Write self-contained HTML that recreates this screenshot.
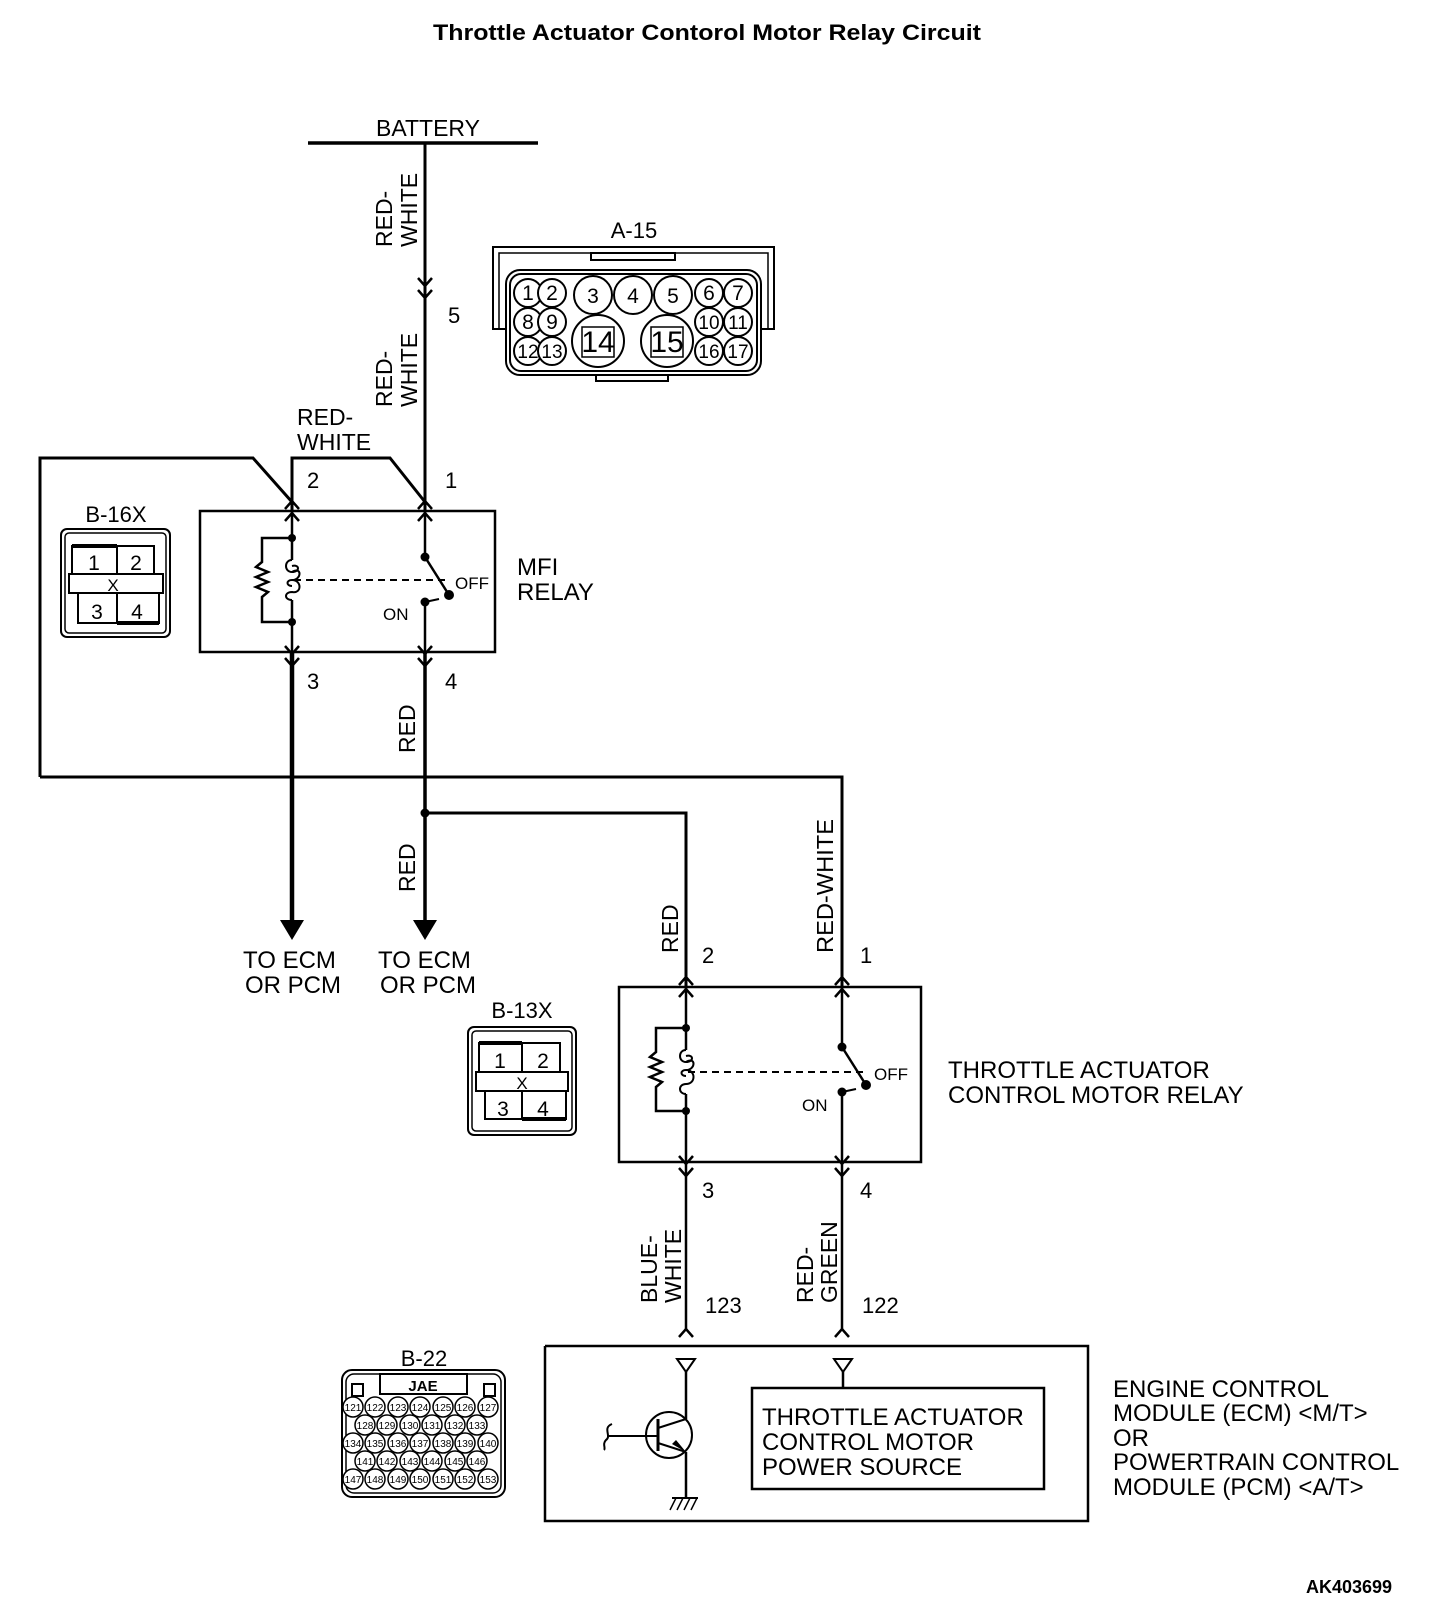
<!DOCTYPE html>
<html><head><meta charset="utf-8"><style>
html,body{margin:0;padding:0;background:#fff}
svg{display:block}
text{font-family:"Liberation Sans",Arial,sans-serif;fill:#000}
</style></head><body>
<svg width="1456" height="1612" viewBox="0 0 1456 1612" xmlns="http://www.w3.org/2000/svg">
<text x="707" y="40" font-size="22" font-weight="bold" text-anchor="middle" textLength="548" lengthAdjust="spacingAndGlyphs">Throttle Actuator Contorol Motor Relay Circuit</text>

<!-- battery -->
<line x1="308" y1="143" x2="538" y2="143" stroke="#000" stroke-width="3.5"/>
<text x="428" y="136" font-size="23" text-anchor="middle">BATTERY</text>
<line x1="425" y1="143" x2="425" y2="511" stroke="#000" stroke-width="3"/>
<g stroke="#000" stroke-width="2.5" fill="none">
<polyline points="418,278 425,286 432,278"/>
<polyline points="418,290 425,298 432,290"/>
</g>
<text x="448" y="323" font-size="22">5</text>
<text transform="translate(392,247) rotate(-90)" font-size="23">RED-</text>
<text transform="translate(417,247) rotate(-90)" font-size="23">WHITE</text>
<text transform="translate(392,407) rotate(-90)" font-size="23">RED-</text>
<text transform="translate(417,407) rotate(-90)" font-size="23">WHITE</text>
<text x="297" y="425" font-size="23">RED-</text>
<text x="297" y="450" font-size="23">WHITE</text>

<!-- A-15 -->
<g stroke="#000" fill="none" stroke-width="2">
<rect x="493" y="247" width="281" height="82"/>
<rect x="499" y="253" width="269" height="76" stroke-width="1.5"/>
<rect x="591" y="253" width="84" height="7"/>
<rect x="506" y="270" width="255" height="105" rx="14" fill="#fff"/>
<rect x="510" y="274" width="247" height="97" rx="11"/>
<rect x="596" y="375" width="72" height="6"/>
</g>
<text x="634" y="238" font-size="22" text-anchor="middle">A-15</text>
<g stroke="#000" stroke-width="2" fill="#fff">
<circle cx="528" cy="293" r="14"/><circle cx="552" cy="293" r="14"/>
<circle cx="593" cy="295" r="19"/><circle cx="633" cy="295" r="19"/><circle cx="673" cy="295" r="19"/>
<circle cx="709" cy="293" r="14"/><circle cx="738" cy="293" r="14"/>
<circle cx="528" cy="322" r="14"/><circle cx="552" cy="322" r="14"/>
<circle cx="709" cy="322" r="14"/><circle cx="738" cy="322" r="14"/>
<circle cx="528" cy="351" r="14"/><circle cx="552" cy="351" r="14"/>
<circle cx="709" cy="351" r="14"/><circle cx="738" cy="351" r="14"/>
<circle cx="598" cy="341" r="26"/><circle cx="667" cy="341" r="26"/>
<rect x="582" y="327" width="32" height="30" stroke-width="1.5"/>
<rect x="651" y="327" width="32" height="30" stroke-width="1.5"/>
</g>
<g font-size="21" text-anchor="middle">
<text x="528" y="300">1</text><text x="552" y="300">2</text>
<text x="593" y="303">3</text><text x="633" y="303">4</text><text x="673" y="303">5</text>
<text x="709" y="300">6</text><text x="738" y="300">7</text>
<text x="528" y="329">8</text><text x="552" y="329">9</text>
<text x="709" y="329" font-size="19">10</text><text x="738" y="329" font-size="19">11</text>
<text x="528" y="358" font-size="19">12</text><text x="552" y="358" font-size="19">13</text>
<text x="709" y="358" font-size="19">16</text><text x="738" y="358" font-size="19">17</text>
<text x="598" y="352" font-size="30">14</text><text x="667" y="352" font-size="30">15</text>
</g>

<!-- wiring top of relay1 -->
<g stroke="#000" stroke-width="3" fill="none">
<polyline points="40,777 40,458 253,458 292,502"/>
<polyline points="292,511 292,458 390,458 425,502"/>
<polyline points="40,777 842,777 842,987"/>
<polyline points="425,813 686,813 686,987"/>
</g>
<text x="307" y="488" font-size="22">2</text>
<text x="445" y="488" font-size="22">1</text>

<!-- B-16X -->
<g stroke="#000" fill="none" stroke-width="2">
<rect x="61" y="529" width="109" height="108" rx="6"/>
<rect x="65" y="533" width="101" height="100" rx="4" stroke-width="1.5"/>
<rect x="72" y="546" width="82" height="28"/>
<line x1="117" y1="546" x2="117" y2="574"/>
<rect x="69" y="574" width="94" height="19"/>
<rect x="78" y="593" width="81" height="30"/>
<line x1="117" y1="593" x2="117" y2="623"/>
<line x1="72" y1="546" x2="117" y2="546" stroke-width="4"/>
<line x1="117" y1="623" x2="159" y2="623" stroke-width="4"/>
</g>
<text x="116" y="522" font-size="22" text-anchor="middle">B-16X</text>
<g font-size="21" text-anchor="middle">
<text x="94" y="570">1</text><text x="136" y="570">2</text>
<text x="113" y="591" font-size="17">X</text>
<text x="97" y="619">3</text><text x="137" y="619">4</text>
</g>

<!-- relay1 -->
<g stroke="#000" fill="none" stroke-width="2.5">
<rect x="200" y="511" width="295" height="141"/>
<polyline points="285,509 292,501 299,509"/><polyline points="285,521 292,513 299,521"/>
<polyline points="418,509 425,501 432,509"/><polyline points="418,521 425,513 432,521"/>
<polyline points="285,646 292,654 299,646"/><polyline points="285,658 292,666 299,658"/>
<polyline points="418,646 425,654 432,646"/><polyline points="418,658 425,666 432,658"/>
<line x1="292" y1="511" x2="292" y2="560"/>
<line x1="292" y1="600" x2="292" y2="652"/>
<polyline points="292,538 262,538 262,562 256,567 268,572 256,577 268,582 256,587 268,592 262,597 262,622 292,622"/>
<path d="M292,560 C284,560 284,572 292,572 C302,566 302,580 292,580 C302,580 302,594 292,592 C284,592 284,600 292,600 M292,566 C300,564 300,572 292,572 M292,580 C286,580 286,586 292,586" stroke-width="2"/>
<line x1="294" y1="580" x2="449" y2="580" stroke-dasharray="7,5" stroke-width="2"/>
<line x1="425" y1="511" x2="425" y2="557"/>
<line x1="425" y1="557" x2="449" y2="595"/>
<line x1="425" y1="602" x2="425" y2="652"/>
<line x1="425" y1="602" x2="439" y2="599" stroke-width="2"/>
</g>
<g fill="#000">
<circle cx="292" cy="538" r="4"/><circle cx="292" cy="622" r="4"/>
<circle cx="425" cy="557" r="4.5"/><circle cx="449" cy="595" r="5"/><circle cx="425" cy="602" r="4.5"/>
</g>
<text x="455" y="589" font-size="17">OFF</text>
<text x="383" y="620" font-size="17">ON</text>
<text x="517" y="575" font-size="24">MFI</text>
<text x="517" y="600" font-size="24">RELAY</text>
<text x="307" y="689" font-size="22">3</text>
<text x="445" y="689" font-size="22">4</text>

<!-- wires below relay1 -->
<line x1="292" y1="652" x2="292" y2="922" stroke="#000" stroke-width="4.5"/>
<line x1="425" y1="652" x2="425" y2="922" stroke="#000" stroke-width="3.5"/>
<polygon points="280,920 304,920 292,940" fill="#000"/>
<polygon points="413,920 437,920 425,940" fill="#000"/>
<circle cx="425" cy="813" r="4.5" fill="#000"/>
<text transform="translate(415,753) rotate(-90)" font-size="23">RED</text>
<text transform="translate(415,892) rotate(-90)" font-size="23">RED</text>
<g font-size="24">
<text x="243" y="968">TO ECM</text><text x="245" y="993">OR PCM</text>
<text x="378" y="968">TO ECM</text><text x="380" y="993">OR PCM</text>
</g>

<!-- relay2 -->
<text transform="translate(678,953) rotate(-90)" font-size="23">RED</text>
<text transform="translate(833,953) rotate(-90)" font-size="23" textLength="134" lengthAdjust="spacingAndGlyphs">RED-WHITE</text>
<text x="702" y="963" font-size="22">2</text>
<text x="860" y="963" font-size="22">1</text>
<g stroke="#000" fill="none" stroke-width="2.5">
<rect x="619" y="987" width="302" height="175"/>
<polyline points="679,985 686,977 693,985"/><polyline points="679,997 686,989 693,997"/>
<polyline points="835,985 842,977 849,985"/><polyline points="835,997 842,989 849,997"/>
<polyline points="679,1156 686,1164 693,1156"/><polyline points="679,1168 686,1176 693,1168"/>
<polyline points="835,1156 842,1164 849,1156"/><polyline points="835,1168 842,1176 849,1168"/>
<line x1="686" y1="987" x2="686" y2="1050"/>
<line x1="686" y1="1094" x2="686" y2="1162"/>
<polyline points="686,1028 656,1028 656,1052 650,1057 662,1062 650,1067 662,1072 650,1077 662,1082 656,1087 656,1111 686,1111"/>
<path d="M686,1050 C678,1050 678,1062 686,1062 C696,1056 696,1070 686,1070 C696,1070 696,1084 686,1084 C678,1084 678,1094 686,1094 M686,1056 C694,1054 694,1062 686,1062 M686,1070 C680,1070 680,1076 686,1076" stroke-width="2"/>
<line x1="688" y1="1072" x2="866" y2="1072" stroke-dasharray="7,5" stroke-width="2"/>
<line x1="842" y1="987" x2="842" y2="1047"/>
<line x1="842" y1="1047" x2="866" y2="1085"/>
<line x1="842" y1="1092" x2="842" y2="1162"/>
<line x1="842" y1="1092" x2="856" y2="1089" stroke-width="2"/>
<line x1="686" y1="1162" x2="686" y2="1330"/>
<line x1="842" y1="1162" x2="842" y2="1330"/>
<polyline points="679,1337 686,1329 693,1337"/>
<polyline points="835,1337 842,1329 849,1337"/>
</g>
<g fill="#000">
<circle cx="686" cy="1028" r="4"/><circle cx="686" cy="1111" r="4"/>
<circle cx="842" cy="1047" r="4.5"/><circle cx="866" cy="1085" r="5"/><circle cx="842" cy="1092" r="4.5"/>
</g>
<text x="874" y="1080" font-size="17">OFF</text>
<text x="802" y="1111" font-size="17">ON</text>
<text x="948" y="1078" font-size="24">THROTTLE ACTUATOR</text>
<text x="948" y="1103" font-size="24">CONTROL MOTOR RELAY</text>
<text x="702" y="1198" font-size="22">3</text>
<text x="860" y="1198" font-size="22">4</text>

<!-- B-13X -->
<g stroke="#000" fill="none" stroke-width="2">
<rect x="468" y="1027" width="108" height="108" rx="6"/>
<rect x="472" y="1031" width="100" height="100" rx="4" stroke-width="1.5"/>
<rect x="479" y="1043" width="81" height="29"/>
<line x1="522" y1="1043" x2="522" y2="1072"/>
<rect x="476" y="1072" width="92" height="19"/>
<rect x="485" y="1091" width="81" height="28"/>
<line x1="522" y1="1091" x2="522" y2="1119"/>
<line x1="479" y1="1043" x2="522" y2="1043" stroke-width="4"/>
<line x1="522" y1="1119" x2="566" y2="1119" stroke-width="4"/>
</g>
<text x="522" y="1018" font-size="22" text-anchor="middle">B-13X</text>
<g font-size="21" text-anchor="middle">
<text x="500" y="1068">1</text><text x="543" y="1068">2</text>
<text x="522" y="1089" font-size="17">X</text>
<text x="503" y="1116">3</text><text x="543" y="1116">4</text>
</g>

<!-- lower labels -->
<text transform="translate(657,1303) rotate(-90)" font-size="23">BLUE-</text>
<text transform="translate(681,1303) rotate(-90)" font-size="23">WHITE</text>
<text transform="translate(813,1303) rotate(-90)" font-size="23">RED-</text>
<text transform="translate(837,1303) rotate(-90)" font-size="23">GREEN</text>
<text x="705" y="1313" font-size="22">123</text>
<text x="862" y="1313" font-size="22">122</text>

<!-- ECM -->
<g stroke="#000" fill="none" stroke-width="2.5">
<polyline points="545,1346 1088,1346 1088,1521 545,1521 545,1346"/>
<polygon points="677,1359 695,1359 686,1372" stroke-width="2"/>
<polygon points="834,1359 852,1359 843,1372" stroke-width="2"/>
<line x1="686" y1="1372" x2="686" y2="1419"/>
<line x1="843" y1="1372" x2="843" y2="1388"/>
<rect x="752" y="1388" width="292" height="101"/>
<circle cx="669" cy="1435" r="23" stroke-width="2"/>
<line x1="607" y1="1436" x2="658" y2="1436" stroke-width="2"/>
<path d="M612,1424 C602,1428 612,1436 606,1440 C602,1444 606,1448 604,1450" stroke-width="2"/>
<line x1="658" y1="1419" x2="658" y2="1451" stroke-width="3"/>
<line x1="658" y1="1428" x2="686" y2="1419" stroke-width="2"/>
<line x1="658" y1="1443" x2="686" y2="1452" stroke-width="2"/>
<line x1="686" y1="1452" x2="686" y2="1497"/>
<line x1="672" y1="1498" x2="698" y2="1498" stroke-width="2"/>
<line x1="676" y1="1498" x2="670" y2="1510" stroke-width="1.5"/>
<line x1="683" y1="1498" x2="677" y2="1510" stroke-width="1.5"/>
<line x1="690" y1="1498" x2="684" y2="1510" stroke-width="1.5"/>
<line x1="697" y1="1498" x2="691" y2="1510" stroke-width="1.5"/>
</g>
<polygon points="686,1452 672,1444 676,1440" fill="#000"/>
<g font-size="24">
<text x="762" y="1425">THROTTLE ACTUATOR</text>
<text x="762" y="1450">CONTROL MOTOR</text>
<text x="762" y="1475">POWER SOURCE</text>
<text x="1113" y="1397">ENGINE CONTROL</text>
<text x="1113" y="1421">MODULE (ECM) &lt;M/T&gt;</text>
<text x="1113" y="1446">OR</text>
<text x="1113" y="1470">POWERTRAIN CONTROL</text>
<text x="1113" y="1495">MODULE (PCM) &lt;A/T&gt;</text>
</g>

<!-- B-22 -->
<text x="424" y="1366" font-size="22" text-anchor="middle">B-22</text>
<g stroke="#000" fill="none" stroke-width="2">
<rect x="342" y="1370" width="163" height="127" rx="10"/>
<rect x="346" y="1374" width="155" height="119" rx="8" stroke-width="1.5"/>
<rect x="380" y="1374" width="87" height="20"/>
<rect x="352" y="1384" width="11" height="12"/>
<rect x="484" y="1384" width="11" height="12"/>
</g>
<text x="423" y="1391" font-size="15" font-weight="bold" text-anchor="middle">JAE</text>
<g stroke="#000" stroke-width="1.5" fill="#fff">
<circle cx="353" cy="1407" r="10"/><circle cx="375" cy="1407" r="10"/><circle cx="398" cy="1407" r="10"/><circle cx="420" cy="1407" r="10"/><circle cx="443" cy="1407" r="10"/><circle cx="465" cy="1407" r="10"/><circle cx="488" cy="1407" r="10"/>
<circle cx="365" cy="1425" r="10"/><circle cx="387" cy="1425" r="10"/><circle cx="410" cy="1425" r="10"/><circle cx="432" cy="1425" r="10"/><circle cx="455" cy="1425" r="10"/><circle cx="477" cy="1425" r="10"/>
<circle cx="353" cy="1443" r="10"/><circle cx="375" cy="1443" r="10"/><circle cx="398" cy="1443" r="10"/><circle cx="420" cy="1443" r="10"/><circle cx="443" cy="1443" r="10"/><circle cx="465" cy="1443" r="10"/><circle cx="488" cy="1443" r="10"/>
<circle cx="365" cy="1461" r="10"/><circle cx="387" cy="1461" r="10"/><circle cx="410" cy="1461" r="10"/><circle cx="432" cy="1461" r="10"/><circle cx="455" cy="1461" r="10"/><circle cx="477" cy="1461" r="10"/>
<circle cx="353" cy="1479" r="10"/><circle cx="375" cy="1479" r="10"/><circle cx="398" cy="1479" r="10"/><circle cx="420" cy="1479" r="10"/><circle cx="443" cy="1479" r="10"/><circle cx="465" cy="1479" r="10"/><circle cx="488" cy="1479" r="10"/>
</g>
<g font-size="10" text-anchor="middle">
<text x="353" y="1411">121</text><text x="375" y="1411">122</text><text x="398" y="1411">123</text><text x="420" y="1411">124</text><text x="443" y="1411">125</text><text x="465" y="1411">126</text><text x="488" y="1411">127</text>
<text x="365" y="1429">128</text><text x="387" y="1429">129</text><text x="410" y="1429">130</text><text x="432" y="1429">131</text><text x="455" y="1429">132</text><text x="477" y="1429">133</text>
<text x="353" y="1447">134</text><text x="375" y="1447">135</text><text x="398" y="1447">136</text><text x="420" y="1447">137</text><text x="443" y="1447">138</text><text x="465" y="1447">139</text><text x="488" y="1447">140</text>
<text x="365" y="1465">141</text><text x="387" y="1465">142</text><text x="410" y="1465">143</text><text x="432" y="1465">144</text><text x="455" y="1465">145</text><text x="477" y="1465">146</text>
<text x="353" y="1483">147</text><text x="375" y="1483">148</text><text x="398" y="1483">149</text><text x="420" y="1483">150</text><text x="443" y="1483">151</text><text x="465" y="1483">152</text><text x="488" y="1483">153</text>
</g>

<text x="1306" y="1593" font-size="18" font-weight="bold">AK403699</text>
</svg>
</body></html>
